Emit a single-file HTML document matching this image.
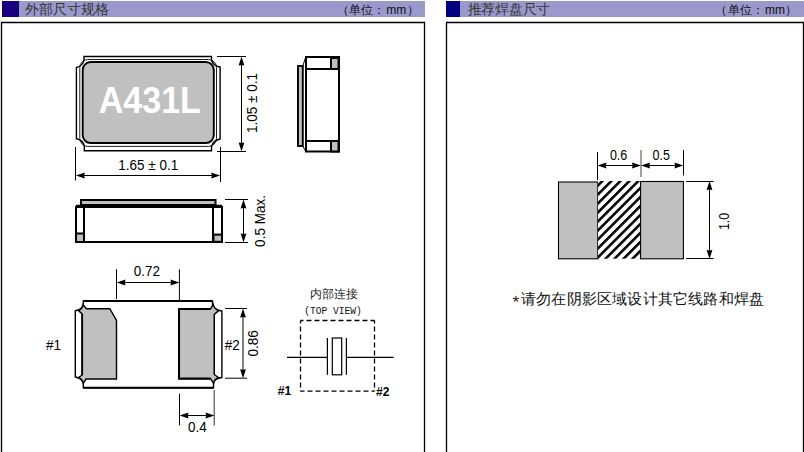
<!DOCTYPE html>
<html><head><meta charset="utf-8"><style>
html,body{margin:0;padding:0;background:#fff;width:804px;height:452px;overflow:hidden}
svg{display:block;font-family:"Liberation Sans",sans-serif}
.cjk{font-family:"Liberation Serif",serif}
</style></head><body>
<svg width="804" height="452" viewBox="0 0 804 452">
<rect x="2" y="1" width="423" height="16" fill="#9999cc"/>
<rect x="2" y="1" width="17" height="16" fill="#180080"/>
<rect x="446" y="1" width="358" height="16" fill="#9999cc"/>
<rect x="446" y="1" width="14" height="16" fill="#000080"/>
<text x="25.3" y="14.2" class="cjk" font-size="14" fill="#333">外部尺寸规格</text>
<text y="14" class="cjk" font-size="12" fill="#111"><tspan x="337">（</tspan><tspan x="349">单位：</tspan><tspan x="386.3" font-family="Liberation Sans">mm</tspan><tspan x="406.5">）</tspan></text>
<text x="467.5" y="14.2" class="cjk" font-size="14" letter-spacing="-0.25" fill="#333">推荐焊盘尺寸</text>
<text y="14" class="cjk" font-size="12" fill="#111"><tspan x="715">（</tspan><tspan x="727.5">单位：</tspan><tspan x="765" font-family="Liberation Sans">mm</tspan><tspan x="785">）</tspan></text>
<path d="M1.5,460 V22.5 H424.5 V460" fill="none" stroke="#000" stroke-width="1.3"/>
<path d="M446.5,460 V22.5 H803.5 V460" fill="none" stroke="#000" stroke-width="1.3"/>
<path d="M84,56.5 H211.5 V60 Q213,66 220.1,67 V139 Q213,140.5 211.5,146.5 V150.8 H84.3 V146 Q83,140 76.4,138.8 V67.5 Q83,66 84,60 Z" fill="#fff" stroke="#000" stroke-width="1.4"/>
<rect x="79.8" y="59.5" width="136.7" height="86.9" rx="8" ry="8" fill="none" stroke="#000" stroke-width="0.9"/>
<rect x="82.7" y="62.05" width="131.1" height="81" rx="8" ry="8" fill="#c0c0c0" stroke="#000" stroke-width="1.9"/>
<text transform="translate(149.8,112.8) scale(1,1.065)" font-size="34" font-weight="bold" fill="#fff" text-anchor="middle">A431L</text>
<line x1="217.00" y1="56.50" x2="246.00" y2="56.50" stroke="#000" stroke-width="1.0" />
<line x1="217.00" y1="151.50" x2="246.00" y2="151.50" stroke="#000" stroke-width="1.0" />
<line x1="241.50" y1="59.50" x2="241.50" y2="148.50" stroke="#000" stroke-width="1.0"/><polygon points="241.50,56.50 238.60,65.50 241.50,64.90 244.40,65.50"/><polygon points="241.50,151.50 238.60,142.50 241.50,143.10 244.40,142.50"/>
<text transform="translate(257,103) rotate(-90) scale(1,1.1)" font-size="13.5" text-anchor="middle">1.05 ± 0.1</text>
<line x1="75.50" y1="147.00" x2="75.50" y2="180.50" stroke="#000" stroke-width="1.0" />
<line x1="220.50" y1="147.00" x2="220.50" y2="182.00" stroke="#000" stroke-width="1.0" />
<line x1="78.80" y1="175.50" x2="217.20" y2="175.50" stroke="#000" stroke-width="1.0"/><polygon points="75.80,175.50 84.80,172.60 84.20,175.50 84.80,178.40"/><polygon points="220.20,175.50 211.20,172.60 211.80,175.50 211.20,178.40"/>
<text transform="translate(148.3,170) scale(1,1.1)" font-size="13.5" text-anchor="middle">1.65 ± 0.1</text>
<path d="M303,65.5 L305.5,57.5 M303,146.5 L305.5,151" stroke="#000" stroke-width="1" fill="none"/>
<rect x="298" y="66" width="4.8" height="80" fill="#c0c0c0" stroke="#000" stroke-width="1.9"/>
<rect x="306" y="57" width="33" height="94.5" fill="#fff" stroke="#000" stroke-width="2"/>
<line x1="306.00" y1="69.00" x2="339.00" y2="69.00" stroke="#000" stroke-width="2" />
<line x1="306.00" y1="141.00" x2="339.00" y2="141.00" stroke="#000" stroke-width="2" />
<rect x="331" y="58" width="7.5" height="11" fill="#c0c0c0" stroke="#000" stroke-width="2"/>
<rect x="331" y="141" width="7.5" height="10.5" fill="#c0c0c0" stroke="#000" stroke-width="2"/>
<rect x="81" y="200" width="134.5" height="5" fill="#c0c0c0" stroke="#000" stroke-width="2"/>
<path d="M215.5,205 Q216,207 218,207" stroke="#000" stroke-width="1" fill="none"/>
<rect x="76" y="207" width="146" height="35" fill="#fff" stroke="#000" stroke-width="2"/>
<line x1="76.00" y1="205.80" x2="222.00" y2="205.80" stroke="#000" stroke-width="2" />
<line x1="84.00" y1="207.00" x2="84.00" y2="242.00" stroke="#000" stroke-width="2" />
<line x1="213.00" y1="207.00" x2="213.00" y2="242.00" stroke="#000" stroke-width="2" />
<rect x="76" y="233.5" width="8" height="8.5" fill="#c0c0c0" stroke="#000" stroke-width="2"/>
<rect x="213.5" y="234.6" width="8.5" height="7.2" fill="#c0c0c0" stroke="#000" stroke-width="2"/>
<line x1="225.00" y1="199.50" x2="248.00" y2="199.50" stroke="#000" stroke-width="1.0" />
<line x1="225.00" y1="242.50" x2="248.00" y2="242.50" stroke="#000" stroke-width="1.0" />
<line x1="243.50" y1="202.50" x2="243.50" y2="239.50" stroke="#000" stroke-width="1.0"/><polygon points="243.50,199.50 240.60,208.50 243.50,207.90 246.40,208.50"/><polygon points="243.50,242.50 240.60,233.50 243.50,234.10 246.40,233.50"/>
<text transform="translate(265.3,221) rotate(-90) scale(1,1.1)" font-size="13.5" text-anchor="middle">0.5 Max.</text>
<path d="M83.3,301 H212.5 V304.5 Q214,310 221.9,311 V377.5 Q214,378.5 213.5,383.5 V387.8 H83.3 V383.5 Q82,378 75.3,377 V310.8 Q82,310 83.2,304.5 Z" fill="#fff" stroke="#000" stroke-width="1.4"/>
<path d="M83.3,301 H212.5 M83.3,387.8 H213.5" stroke="#000" stroke-width="2"/>
<path d="M82.2,314 L78.5,310.6 Q82.3,309 83.2,304.8 L86.5,308.7 H109.8 L116.5,320.5 V379 H86 L83.3,383.2 Q82,378.5 78.3,377.6 L82.2,375 Z" fill="#c0c0c0" stroke="#000" stroke-width="1.4"/>
<line x1="82.20" y1="314.00" x2="82.20" y2="375.00" stroke="#000" stroke-width="1.8" />
<path d="M179,309 H210.4 L213.2,304.4 Q214.5,309.5 218.7,310.5 L214.3,314.4 V374.5 L218.7,377.8 Q214.5,378.5 213.6,383.3 L210.5,378.6 H179 Z" fill="#c0c0c0" stroke="#000" stroke-width="1.4"/>
<path d="M214.3,314.4 V374.5" stroke="#000" stroke-width="1"/>
<path d="M210.4,309 H179 V378.6 H210.5" fill="none" stroke="#000" stroke-width="2.1"/>
<line x1="116.50" y1="269.30" x2="116.50" y2="299.00" stroke="#000" stroke-width="1.0" />
<line x1="179.40" y1="269.30" x2="179.40" y2="300.00" stroke="#000" stroke-width="1.0" />
<line x1="119.50" y1="282.50" x2="176.50" y2="282.50" stroke="#000" stroke-width="1.0"/><polygon points="116.50,282.50 125.50,279.60 124.90,282.50 125.50,285.40"/><polygon points="179.50,282.50 170.50,279.60 171.10,282.50 170.50,285.40"/>
<text transform="translate(147,275.5) scale(1,1.1)" font-size="13.5" text-anchor="middle">0.72</text>
<text transform="translate(53.4,350) scale(1,1.1)" font-size="13.5" text-anchor="middle">#1</text>
<text transform="translate(232.3,350.2) scale(1,1.1)" font-size="13.5" text-anchor="middle">#2</text>
<line x1="225.00" y1="308.50" x2="247.00" y2="308.50" stroke="#000" stroke-width="1.0" />
<line x1="225.00" y1="378.20" x2="247.00" y2="378.20" stroke="#000" stroke-width="1.0" />
<line x1="243.00" y1="311.50" x2="243.00" y2="375.20" stroke="#000" stroke-width="1.0"/><polygon points="243.00,308.50 240.10,317.50 243.00,316.90 245.90,317.50"/><polygon points="243.00,378.20 240.10,369.20 243.00,369.80 245.90,369.20"/>
<text transform="translate(257.8,343.3) rotate(-90) scale(1,1.1)" font-size="13.5" text-anchor="middle">0.86</text>
<line x1="179.50" y1="393.60" x2="179.50" y2="425.40" stroke="#000" stroke-width="1.0" />
<line x1="214.20" y1="390.00" x2="214.20" y2="425.60" stroke="#333" stroke-width="1.0" />
<line x1="182.50" y1="415.50" x2="211.50" y2="415.50" stroke="#000" stroke-width="1.0"/><polygon points="179.50,415.50 188.50,412.60 187.90,415.50 188.50,418.40"/><polygon points="214.50,415.50 205.50,412.60 206.10,415.50 205.50,418.40"/>
<text transform="translate(197.4,431.6) scale(1,1.1)" font-size="13.5" text-anchor="middle">0.4</text>
<text x="333.5" y="297.8" class="cjk" font-size="12" fill="#222" text-anchor="middle">内部连接</text>
<text transform="translate(333,313.5) scale(1,1.2)" font-family="Liberation Mono" font-size="9.6" letter-spacing="0" fill="#111" text-anchor="middle">(TOP VIEW)</text>
<g fill="none" stroke="#000" stroke-width="1.3" stroke-dasharray="5,3" stroke-dashoffset="2"><path d="M300.5,320.5 H374.5"/><path d="M300.5,320.5 V391.2"/><path d="M374.5,320.5 V391.2"/><path d="M374.5,391.2 H300.5"/></g>
<line x1="287.00" y1="357.30" x2="327.40" y2="357.30" stroke="#000" stroke-width="1.2" />
<line x1="346.40" y1="357.30" x2="393.70" y2="357.30" stroke="#000" stroke-width="1.2" />
<line x1="327.40" y1="337.90" x2="327.40" y2="374.80" stroke="#000" stroke-width="1.2" />
<line x1="346.40" y1="337.90" x2="346.40" y2="374.80" stroke="#000" stroke-width="1.2" />
<rect x="332.3" y="338" width="9.4" height="36.8" fill="none" stroke="#000" stroke-width="1.2"/>
<text x="284.4" y="394.7" font-size="12" font-weight="bold" text-anchor="middle">#1</text>
<text x="382.7" y="396" font-size="12" font-weight="bold" text-anchor="middle">#2</text>
<defs><pattern id="hatch" patternUnits="userSpaceOnUse" width="6.36" height="6.36" patternTransform="translate(598,181) rotate(-45)"><rect width="6.36" height="6.36" fill="#fff"/><rect x="0" y="1.8" width="6.36" height="2.6" fill="#000"/></pattern></defs>
<rect x="558.5" y="182" width="39.3" height="76.8" fill="#c0c0c0" stroke="#000" stroke-width="1.1"/>
<rect x="598" y="181" width="42" height="77.7" fill="url(#hatch)"/>
<rect x="640.6" y="181.5" width="42.8" height="77.3" fill="#c0c0c0" stroke="#000" stroke-width="1.1"/>
<line x1="597.50" y1="152.00" x2="597.50" y2="180.00" stroke="#000" stroke-width="1.0" />
<line x1="641.00" y1="150.00" x2="641.00" y2="177.00" stroke="#555" stroke-width="1.1" />
<line x1="683.50" y1="150.00" x2="683.50" y2="175.50" stroke="#000" stroke-width="1.0" />
<line x1="600.50" y1="165.50" x2="638.00" y2="165.50" stroke="#000" stroke-width="1.0"/><polygon points="597.50,165.50 606.50,162.60 605.90,165.50 606.50,168.40"/><polygon points="641.00,165.50 632.00,162.60 632.60,165.50 632.00,168.40"/>
<line x1="644.00" y1="165.50" x2="680.50" y2="165.50" stroke="#000" stroke-width="1.0"/><polygon points="641.00,165.50 650.00,162.60 649.40,165.50 650.00,168.40"/><polygon points="683.50,165.50 674.50,162.60 675.10,165.50 674.50,168.40"/>
<text transform="translate(618.6,160) scale(1,1.1)" font-size="12.5" text-anchor="middle">0.6</text>
<text transform="translate(661.2,159.7) scale(1,1.1)" font-size="12.5" text-anchor="middle">0.5</text>
<line x1="686.00" y1="181.50" x2="713.60" y2="181.50" stroke="#000" stroke-width="1.0" />
<line x1="686.00" y1="258.50" x2="713.60" y2="258.50" stroke="#000" stroke-width="1.0" />
<line x1="709.50" y1="184.00" x2="709.50" y2="255.90" stroke="#000" stroke-width="1.0"/><polygon points="709.50,181.00 706.60,190.00 709.50,189.40 712.40,190.00"/><polygon points="709.50,258.90 706.60,249.90 709.50,250.50 712.40,249.90"/>
<text transform="translate(728.6,221.4) rotate(-90) scale(1,1.1)" font-size="12.5" text-anchor="middle">1.0</text>
<text x="512.5" y="307.5" font-size="17" fill="#222">*</text>
<text x="521" y="303.5" class="cjk" font-size="15" letter-spacing="0.2" fill="#111">请勿在阴影区域设计其它线路和焊盘</text>
</svg>
</body></html>
